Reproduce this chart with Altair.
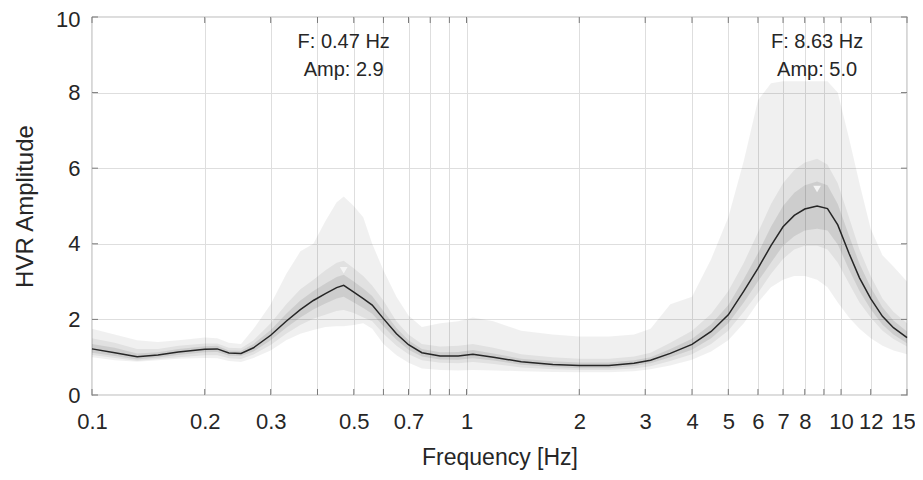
import altair as alt
import pandas as pd

# frequency grid (Hz)
freq = [0.1, 0.115, 0.132, 0.15, 0.17, 0.2, 0.216, 0.232, 0.25, 0.27, 0.3, 0.33, 0.36, 0.39, 0.42,
        0.45, 0.47, 0.5, 0.53, 0.56, 0.6, 0.65, 0.7, 0.76, 0.85, 0.95, 1.04, 1.18, 1.4, 1.7, 2.0,
        2.4, 2.8, 3.1, 3.5, 4.0, 4.5, 5.0, 5.5, 6.0, 6.5, 7.0, 7.5, 8.0, 8.63, 9.2, 9.8, 10.5,
        11.2, 12.0, 12.9, 13.8, 15.0]
# mean HVR curve
mean_amp = [1.22, 1.12, 1.01, 1.06, 1.14, 1.21, 1.22, 1.11, 1.10, 1.25, 1.58, 1.95, 2.26, 2.5, 2.68,
            2.84, 2.9, 2.72, 2.55, 2.38, 2.02, 1.62, 1.33, 1.12, 1.03, 1.03, 1.08, 1.0, 0.88, 0.81, 0.78,
            0.78, 0.84, 0.92, 1.1, 1.34, 1.68, 2.12, 2.75, 3.35, 3.95, 4.45, 4.75, 4.92, 5.0, 4.93, 4.5,
            3.75, 3.1, 2.55, 2.08, 1.78, 1.52]
# outer envelope
hi1 = [1.75, 1.6, 1.45, 1.4, 1.45, 1.52, 1.5, 1.38, 1.35, 1.75, 2.4, 3.2, 3.8, 4.0, 4.6,
       5.1, 5.25, 5.0, 4.7, 4.0, 3.3, 2.6, 2.1, 1.8, 1.9, 1.95, 2.05, 1.95, 1.7, 1.6, 1.55,
       1.55, 1.6, 1.75, 2.4, 2.6, 3.6, 4.7, 6.2, 7.8, 8.25, 8.3, 8.3, 8.3, 8.3, 8.3, 8.0,
       6.8, 5.6, 4.4, 3.7, 3.4, 3.0]
lo1 = [1.0, 0.92, 0.88, 0.92, 0.96, 0.98, 0.97, 0.9, 0.87, 0.98, 1.18, 1.45, 1.62, 1.72, 1.8,
       1.82, 1.82, 1.85, 1.9, 1.75, 1.35, 1.05, 0.85, 0.7, 0.66, 0.65, 0.66, 0.65, 0.63, 0.61, 0.6,
       0.6, 0.63, 0.68, 0.78, 0.93, 1.15, 1.45, 1.9, 2.45, 2.85, 3.05, 3.15, 3.15, 3.05, 2.85, 2.45,
       2.05, 1.75, 1.5, 1.3, 1.18, 1.08]
# middle band
hi2 = [1.5, 1.38, 1.22, 1.22, 1.3, 1.36, 1.36, 1.25, 1.24, 1.45, 1.9, 2.4, 2.8, 3.05, 3.3,
       3.5, 3.55, 3.35, 3.15, 2.9, 2.5, 1.95, 1.6, 1.35, 1.28, 1.3, 1.35, 1.25, 1.08, 1.0, 0.96,
       0.96, 1.02, 1.12, 1.38, 1.7, 2.15, 2.75, 3.5, 4.3, 5.05, 5.6, 5.95, 6.15, 6.25, 6.1, 5.6,
       4.7, 3.85, 3.15, 2.55, 2.2, 1.9]
lo2 = [1.06, 0.98, 0.9, 0.95, 1.0, 1.05, 1.05, 0.97, 0.95, 1.07, 1.32, 1.62, 1.85, 2.02, 2.12,
       2.22, 2.25, 2.17, 2.05, 1.95, 1.62, 1.3, 1.08, 0.92, 0.85, 0.84, 0.87, 0.82, 0.73, 0.68, 0.66,
       0.66, 0.7, 0.76, 0.9, 1.08, 1.35, 1.7, 2.2, 2.7, 3.2, 3.6, 3.85, 3.95, 3.95, 3.85, 3.5,
       2.95, 2.45, 2.05, 1.7, 1.48, 1.28]
# inner band
hi3 = [1.35, 1.25, 1.1, 1.13, 1.22, 1.29, 1.3, 1.18, 1.17, 1.35, 1.72, 2.15, 2.5, 2.75, 2.95,
       3.12, 3.18, 3.0, 2.82, 2.62, 2.22, 1.77, 1.45, 1.22, 1.13, 1.14, 1.19, 1.1, 0.96, 0.89, 0.86,
       0.86, 0.92, 1.0, 1.22, 1.49, 1.87, 2.38, 3.07, 3.75, 4.45, 5.0, 5.35, 5.55, 5.65, 5.55, 5.05,
       4.22, 3.47, 2.85, 2.32, 1.97, 1.68]
lo3 = [1.12, 1.03, 0.94, 0.99, 1.06, 1.13, 1.14, 1.04, 1.03, 1.15, 1.45, 1.78, 2.05, 2.26, 2.42,
       2.55, 2.6, 2.45, 2.3, 2.15, 1.82, 1.46, 1.2, 1.02, 0.94, 0.93, 0.97, 0.91, 0.8, 0.74, 0.71,
       0.71, 0.77, 0.84, 1.0, 1.2, 1.5, 1.9, 2.45, 3.0, 3.5, 3.95, 4.2, 4.35, 4.4, 4.35, 3.98,
       3.32, 2.75, 2.27, 1.86, 1.6, 1.37]

# peaks
peak_f = [0.47, 8.63]
peak_marker_y = [3.3, 5.45]
ann_f = [0.47, 0.47, 8.63, 8.63]
ann_y = [9.34, 8.6, 9.34, 8.6]
ann_text = ["F: 0.47 Hz", "Amp: 2.9", "F: 8.63 Hz", "Amp: 5.0"]

# axes
xtick_vals = [0.1, 0.2, 0.3, 0.4, 0.5, 0.6, 0.7, 0.8, 0.9, 1, 2, 3, 4, 5, 6, 7, 8, 9, 10, 12, 15]
xlabel_vals = [0.1, 0.2, 0.3, 0.5, 0.7, 1, 2, 3, 4, 5, 6, 7, 8, 10, 12, 15]
ytick_vals = [0, 2, 4, 6, 8, 10]

FONT = "Liberation Sans"
TXT = "#262626"

df = pd.DataFrame({"f": freq, "mean": mean_amp, "hi1": hi1, "lo1": lo1,
                   "hi2": hi2, "lo2": lo2, "hi3": hi3, "lo3": lo3})
peaks = pd.DataFrame({"f": peak_f, "y": peak_marker_y})
ann = pd.DataFrame({"f": ann_f, "y": ann_y, "t": ann_text})
xt = pd.DataFrame({"v": xtick_vals})
yt = pd.DataFrame({"v": ytick_vals})

label_expr = "indexof([" + ",".join(str(v) for v in xlabel_vals) + "], datum.value) >= 0 ? datum.label : ''"

xscale = alt.Scale(type="log", domain=[0.1, 15], nice=False)
yscale = alt.Scale(domain=[0, 10], nice=False)

xaxis = alt.Axis(values=xtick_vals, format="~g", labelExpr=label_expr, grid=True,
                 gridColor="#dedede", gridWidth=1, ticks=False, domain=False,
                 labelFlush=False, labelOverlap=False, labelPadding=16,
                 labelOffset=alt.condition("datum.value == 15", alt.value(-4), alt.value(0)),
                 labelFont=FONT, labelFontSize=22, labelColor=TXT,
                 title="Frequency [Hz]", titleFont=FONT, titleFontSize=23,
                 titleFontWeight="normal", titleColor=TXT, titleBaseline="middle", titleY=62)
yaxis = alt.Axis(values=ytick_vals, grid=True, gridColor="#dedede", gridWidth=1,
                 ticks=False, domain=False, labelPadding=12, labelFont=FONT,
                 labelFontSize=22, labelColor=TXT,
                 labelOffset=alt.condition("datum.value == 10", alt.value(2), alt.value(0)),
                 title="HVR Amplitude", titleFont=FONT, titleFontSize=24,
                 titleFontWeight="normal", titleColor=TXT, titleX=-67, titleY=189,
                 titleBaseline="middle", titleAlign="center", titleAngle=270)

X = alt.X("f:Q", scale=xscale, axis=xaxis)


def band(hi, lo, op):
    return alt.Chart(df).mark_area(color="#000000", opacity=op, interpolate="linear").encode(
        x=X, y=alt.Y(f"{hi}:Q", scale=yscale, axis=yaxis), y2=f"{lo}:Q")


b1 = band("hi1", "lo1", 0.06)
b2 = band("hi2", "lo2", 0.06)
b3 = band("hi3", "lo3", 0.085)

line = alt.Chart(df).mark_line(color="#262626", strokeWidth=1.5).encode(
    x=X, y=alt.Y("mean:Q", scale=yscale, axis=yaxis))

marks = alt.Chart(peaks).mark_point(shape="triangle-down", filled=True, color="#f4f4f4",
                                    size=60, opacity=1).encode(
    x=X, y=alt.Y("y:Q", scale=yscale, axis=yaxis))

texts = alt.Chart(ann).mark_text(font=FONT, fontSize=20, color=TXT, align="center",
                                 baseline="middle").encode(
    x=X, y=alt.Y("y:Q", scale=yscale, axis=yaxis), text="t:N")

TICK = "#7a7a7a"
xt_bot = alt.Chart(xt).mark_rule(color=TICK, strokeWidth=1).encode(
    x=alt.X("v:Q", scale=xscale, axis=xaxis), y=alt.value(378), y2=alt.value(372))
xt_top = alt.Chart(xt).mark_rule(color=TICK, strokeWidth=1).encode(
    x=alt.X("v:Q", scale=xscale, axis=xaxis), y=alt.value(0), y2=alt.value(6))
yt_l = alt.Chart(yt).mark_rule(color=TICK, strokeWidth=1).encode(
    y=alt.Y("v:Q", scale=yscale, axis=yaxis), x=alt.value(0), x2=alt.value(6))
yt_r = alt.Chart(yt).mark_rule(color=TICK, strokeWidth=1).encode(
    y=alt.Y("v:Q", scale=yscale, axis=yaxis), x=alt.value(809), x2=alt.value(815))

chart = alt.layer(b1, b2, b3, line, marks, texts, xt_bot, xt_top, yt_l, yt_r).properties(
    width=815, height=378,
    autosize=alt.AutoSizeParams(type="none"),
    padding={"left": 84, "top": 9, "right": 8, "bottom": 77},
    background="white",
).configure_view(stroke="#7a7a7a", strokeWidth=1.2)

chart.save("out.html", embed_options={"renderer": "svg", "actions": False})
